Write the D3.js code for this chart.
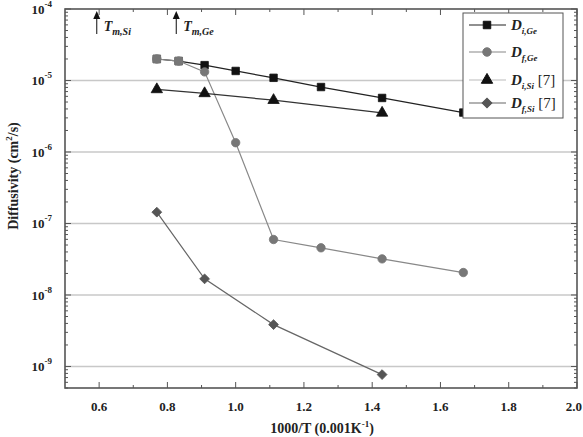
<!DOCTYPE html>
<meta charset="utf-8">
<html>
<head>
    <title>Diffusivity vs 1000/T</title>
    <script src="https://cdn.jsdelivr.net/npm/d3@7"></script>
</head>
<style>
    body{ margin:0; background:#fff; }
    svg{ width:583px; height:437px; display:block; }
    text{ font-family:"Liberation Serif", "DejaVu Serif", serif; font-weight:bold; fill:#222; }
</style>
<body>
<svg></svg>
<script>
    // data
    const invT = [0.769, 0.833, 0.909, 1.0, 1.111, 1.25, 1.429, 1.667];
    const dIGe = [2.0e-5, 1.87e-5, 1.64e-5, 1.36e-5, 1.09e-5, 8.1e-6, 5.7e-6, 3.56e-6];
    const dFGe = [2.0e-5, 1.87e-5, 1.32e-5, 1.35e-6, 5.97e-8, 4.57e-8, 3.2e-8, 2.06e-8];
    const invTSi = [0.769, 0.909, 1.111, 1.429];
    const dISi = [7.5e-6, 6.6e-6, 5.3e-6, 3.52e-6];
    const dFSi = [1.44e-7, 1.68e-8, 3.85e-9, 7.7e-10];
    const xTicks = [0.6, 0.8, 1.0, 1.2, 1.4, 1.6, 1.8, 2.0];
    const yDecades = [-9, -8, -7, -6, -5, -4];
    const melt = [{x: 0.593, sub: "m,Si"}, {x: 0.826, sub: "m,Ge"}];

    const series = [
        {name: "i,Ge", extra: "", xs: invT, ys: dIGe, shape: d3.symbolSquare, rot: 0, fill: "#111", line: "#222", lw: 1.2, size: 56},
        {name: "f,Ge", extra: "", xs: invT, ys: dFGe, shape: d3.symbolCircle, rot: 0, fill: "#777", line: "#888", lw: 1.2, size: 56},
        {name: "i,Si", extra: " [7]", xs: invTSi, ys: dISi, shape: d3.symbolTriangle, rot: 0, fill: "#111", line: "#333", lw: 1.2, size: 56},
        {name: "f,Si", extra: " [7]", xs: invTSi, ys: dFSi, shape: d3.symbolSquare, rot: 45, fill: "#555", line: "#666", lw: 1.2, size: 48}
    ];

    const svg = d3.select("svg");
    const pLeft = 65, pRight = 577, pTop = 9, pBottom = 388;

    const x = d3.scaleLinear().domain([0.5, 2.0]).range([pLeft, pRight]);
    const y = d3.scaleLog().domain([5e-10, 1e-4]).range([pBottom, pTop]);

    // gridlines
    svg.append("g").selectAll("line")
        .data(yDecades.slice(0, -1))
        .join("line")
        .attr("x1", pLeft).attr("x2", pRight)
        .attr("y1", d => y(Math.pow(10, d))).attr("y2", d => y(Math.pow(10, d)))
        .attr("stroke", "#c8c8c8").attr("stroke-width", 1.6);

    // minor y ticks (both sides, inside)
    const minorY = [];
    for (let e = -10; e < -4; e++) for (let m = 2; m < 10; m++) {
        const v = m * Math.pow(10, e);
        if (v >= 5e-10 && v <= 1e-4) minorY.push(v);
    }
    const tickG = svg.append("g").attr("stroke", "#555").attr("stroke-width", 1);
    [pLeft, pRight].forEach(x0 => {
        const dir = x0 === pLeft ? 1 : -1;
        tickG.append("g").selectAll("line").data(minorY).join("line")
            .attr("x1", x0).attr("x2", x0 + dir * 3)
            .attr("y1", d => y(d)).attr("y2", d => y(d));
        tickG.append("g").selectAll("line").data(yDecades).join("line")
            .attr("x1", x0).attr("x2", x0 + dir * 6)
            .attr("y1", d => y(Math.pow(10, d))).attr("y2", d => y(Math.pow(10, d)));
    });
    // x ticks top and bottom, inside
    const minorX = d3.range(0.7, 2.0, 0.2);
    [pBottom, pTop].forEach(y0 => {
        const dir = y0 === pBottom ? -1 : 1;
        tickG.append("g").selectAll("line").data(xTicks).join("line")
            .attr("x1", d => x(d)).attr("x2", d => x(d))
            .attr("y1", y0).attr("y2", y0 + dir * 6);
        tickG.append("g").selectAll("line").data(minorX).join("line")
            .attr("x1", d => x(d)).attr("x2", d => x(d))
            .attr("y1", y0).attr("y2", y0 + dir * 3);
    });

    // frame
    svg.append("rect")
        .attr("x", pLeft).attr("y", pTop)
        .attr("width", pRight - pLeft).attr("height", pBottom - pTop)
        .attr("fill", "none").attr("stroke", "#555").attr("stroke-width", 1.6);

    // tick labels
    svg.append("g").selectAll("text").data(xTicks).join("text")
        .attr("x", d => d === 2.0 ? x(d) + 5 : x(d)).attr("y", 411)
        .attr("text-anchor", d => d === 2.0 ? "end" : "middle").style("font-size", "13px")
        .text(d => d.toFixed(1));
    const yl = svg.append("g").selectAll("text").data(yDecades).join("text")
        .attr("x", 52).attr("y", d => y(Math.pow(10, d)) + 5)
        .attr("text-anchor", "end").style("font-size", "13px");
    yl.append("tspan").text("10");
    yl.append("tspan").attr("dy", -7).style("font-size", "9px").text(d => d);

    // axis titles
    const xt = svg.append("text").attr("x", 322).attr("y", 433)
        .attr("text-anchor", "middle").style("font-size", "14px");
    xt.append("tspan").text("1000/T (0.001K");
    xt.append("tspan").attr("dy", -6).style("font-size", "9px").text("-1");
    xt.append("tspan").attr("dy", 6).text(")");
    const ytl = svg.append("text").attr("transform", "translate(18,176) rotate(-90)")
        .attr("text-anchor", "middle").style("font-size", "14px");
    ytl.append("tspan").text("Diffusivity (cm");
    ytl.append("tspan").attr("dy", -6).style("font-size", "9px").text("2");
    ytl.append("tspan").attr("dy", 6).text("/s)");

    // melting point arrows
    melt.forEach(m => {
        const ax = x(m.x);
        svg.append("line")
            .attr("x1", ax).attr("x2", ax).attr("y1", 34).attr("y2", 16)
            .attr("stroke", "#222").attr("stroke-width", 1.1);
        svg.append("path")
            .attr("d", `M${ax},11 L${ax - 3.5},19 L${ax + 3.5},19 Z`)
            .attr("fill", "#111");
        const t = svg.append("text").attr("x", ax + 7).attr("y", 31)
            .style("font-size", "14px").style("font-style", "italic");
        t.append("tspan").text("T");
        t.append("tspan").attr("dy", 4).style("font-size", "10px").text(m.sub);
    });

    // series
    const line = d3.line().x(d => x(d[0])).y(d => y(d[1]));
    series.forEach(s => {
        const pts = s.xs.map((v, i) => [v, s.ys[i]]);
        svg.append("path").datum(pts).attr("d", line)
            .attr("fill", "none").attr("stroke", s.line).attr("stroke-width", s.lw);
        svg.append("g").selectAll("path").data(pts).join("path")
            .attr("transform", d => `translate(${x(d[0])},${y(d[1])}) rotate(${s.rot})`)
            .attr("d", d3.symbol(s.shape, s.size))
            .attr("fill", s.fill).attr("stroke", s.fill).attr("stroke-width", 0.8);
    });
    // the grey circles sit on top of the black squares at the two hottest points
    svg.append("g").selectAll("path").data(invT.slice(0, 2).map((v, i) => [v, dFGe[i]])).join("path")
        .attr("transform", d => `translate(${x(d[0])},${y(d[1])})`)
        .attr("d", d3.symbol(d3.symbolSquare, 56))
        .attr("fill", "#777").attr("stroke", "#777");

    // legend
    const lg = svg.append("g");
    lg.append("rect").attr("x", 463).attr("y", 13).attr("width", 100).attr("height", 105)
        .attr("fill", "#fff").attr("stroke", "#555").attr("stroke-width", 1);
    const rows = [25, 52, 80, 103];
    series.forEach((s, i) => {
        const ry = rows[i];
        lg.append("line").attr("x1", 469).attr("x2", 506).attr("y1", ry).attr("y2", ry)
            .attr("stroke", i === 2 ? "#aaa" : s.line).attr("stroke-width", i === 2 ? 0.8 : s.lw);
        lg.append("path").attr("transform", `translate(487,${ry}) rotate(${s.rot})`)
            .attr("d", d3.symbol(s.shape, s.size)).attr("fill", s.fill).attr("stroke", s.fill);
        const t = lg.append("text").attr("x", 511).attr("y", ry + 5).style("font-size", "15px");
        t.append("tspan").style("font-style", "italic").text("D");
        t.append("tspan").attr("dy", 4).style("font-size", "9px").style("font-style", "italic").text(s.name);
        if (s.extra) t.append("tspan").attr("dy", -4).style("font-size", "15px").style("font-weight", "normal").text(s.extra);
    });
</script>
</body>
</html>
